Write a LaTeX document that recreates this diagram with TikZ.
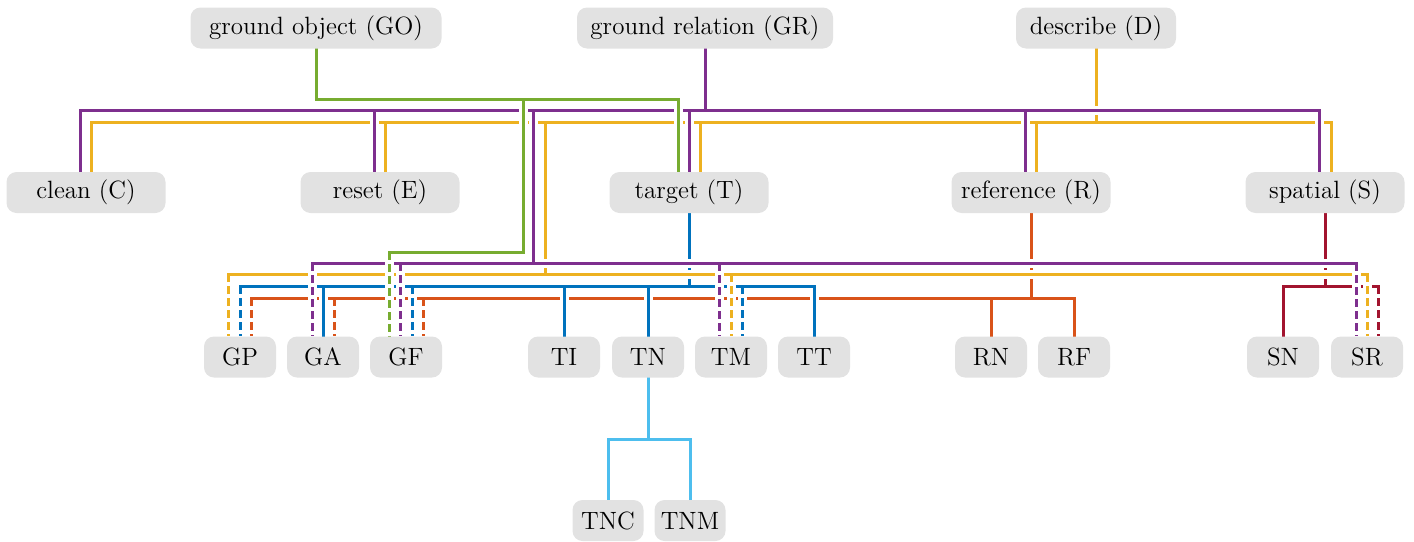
\documentclass[tikz,border=0pt]{standalone}
\usepackage{fontspec}
\usetikzlibrary{calc}
\definecolor{mblue}{RGB}{0,114,189}
\definecolor{morange}{RGB}{217,83,25}
\definecolor{myellow}{RGB}{237,177,32}
\definecolor{mpurple}{RGB}{126,47,142}
\definecolor{mgreen}{RGB}{119,172,48}
\definecolor{mlblue}{RGB}{77,190,238}
\definecolor{mdred}{RGB}{162,20,47}
\definecolor{boxgray}{RGB}{226,226,226}
\pgfdeclarelayer{fg}
\pgfsetlayers{main,fg}

\newcommand{\redpaths}[2]{%
  \draw[#1] (S.south) -- (S.south |- yB2);
  \draw[#1] (SN.north) -- (SN.north |- yB2) -- (SRr |- yB2);
  \draw[#2] (SRr |- yB2) -- (SRr);
}
\newcommand{\orangepaths}[2]{%
  \draw[#1] (R.south) -- (R.south |- yO2);
  \draw[#1] (GPo |- yO2) -- (RF.north |- yO2) -- (RF.north);
  \draw[#1] (RN.north |- yO2) -- (RN.north);
  \draw[#2] (GPo |- yO2) -- (GPo);
  \draw[#2] (GAo |- yO2) -- (GAo);
  \draw[#2] (GFo |- yO2) -- (GFo);
}
\newcommand{\bluepaths}[2]{%
  \draw[#1] (T.south) -- (T.south |- yB2);
  \draw[#1] (GP.north |- yB2) -- (TT.north |- yB2) -- (TT.north);
  \draw[#1] (GA.north |- yB2) -- (GA.north);
  \draw[#1] (TI.north |- yB2) -- (TI.north);
  \draw[#1] (TN.north |- yB2) -- (TN.north);
  \draw[#2] (GP.north |- yB2) -- (GP.north);
  \draw[#2] (GFb |- yB2) -- (GFb);
  \draw[#2] (TMb |- yB2) -- (TMb);
}
\newcommand{\yellowpaths}[2]{%
  \draw[#1] (D.south) -- (D.south |- yY1);
  \draw[#1] (CY) -- (CY |- yY1) -- (SY |- yY1) -- (SY);
  \draw[#1] (EY |- yY1) -- (EY);
  \draw[#1] (TY |- yY1) -- (TY);
  \draw[#1] (RY |- yY1) -- (RY);
  \draw[#1] (jY) -- (jY |- yY2);
  \draw[#1] (GPy |- yY2) -- (SR.north |- yY2);
  \draw[#2] (GPy |- yY2) -- (GPy);
  \draw[#2] (TM.north |- yY2) -- (TM.north);
  \draw[#2] (SR.north |- yY2) -- (SR.north);
}
\newcommand{\purplepaths}[2]{%
  \draw[#1] (GR.south) -- (GR.south |- yP1);
  \draw[#1] (CP) -- (CP |- yP1) -- (SP |- yP1) -- (SP);
  \draw[#1] (EP |- yP1) -- (EP);
  \draw[#1] (T.north |- yP1) -- (T.north);
  \draw[#1] (RP |- yP1) -- (RP);
  \draw[#1] (jP) -- (jP |- yP2);
  \draw[#1] (GAp |- yP2) -- (SRp |- yP2);
  \draw[#2] (GAp |- yP2) -- (GAp);
  \draw[#2] (GFp |- yP2) -- (GFp);
  \draw[#2] (TMp |- yP2) -- (TMp);
  \draw[#2] (SRp |- yP2) -- (SRp);
}
\newcommand{\greenpaths}[2]{%
  \draw[#1] (GO.south) -- (GO.south |- yG1) -- (TG |- yG1) -- (TG);
  \draw[#1] (jG) -- (jG |- yG2) -- (GFg |- yG2);
  \draw[#2] (GFg |- yG2) -- (GFg);
}
\newcommand{\lbluepaths}[2]{%
  \draw[#1] (TN.south) -- (TN.south |- yL);
  \draw[#1] (TNC.north) -- (TNC.north |- yL) -- (TNM.north |- yL) -- (TNM.north);
}

\begin{document}
\begin{tikzpicture}[x=0.5pt,y=-0.5pt,
  box/.style={fill=boxgray, rounded corners=5pt, inner sep=0pt,
    minimum height=20.5pt, font=\fontsize{12.5}{15}\selectfont},
  midbox/.style={box, minimum width=79.5pt},
  leaf/.style={box, minimum width=36pt},
  halo/.style={draw=white, line width=4.5pt, line cap=rect},
  solidc/.style={draw=#1, line width=1.5pt, line cap=rect},
  dashc/.style={draw=#1, line width=1.5pt, line cap=butt, dash pattern=on 4pt off 2pt}]
\useasboundingbox (0,0) rectangle (1414,541);

\begin{pgfonlayer}{fg}
\node[box, minimum width=125.5pt] (GO) at (316,28) {ground object (GO)};
\node[box, minimum width=128pt] (GR) at (705,28) {ground relation (GR)};
\node[box, minimum width=80pt] (D) at (1096,28) {describe (D)};
\node[midbox] (C) at (86,192.5) {clean (C)};
\node[midbox] (E) at (380,192.5) {reset (E)};
\node[midbox] (T) at (689,192.5) {target (T)};
\node[midbox] (R) at (1031,192.5) {reference (R)};
\node[midbox] (S) at (1325,192.5) {spatial (S)};
\node[leaf] (GP) at (240,357) {GP};
\node[leaf] (GA) at (323,357) {GA};
\node[leaf] (GF) at (406,357) {GF};
\node[leaf] (TI) at (564,357) {TI};
\node[leaf] (TN) at (648,357) {TN};
\node[leaf] (TM) at (731,357) {TM};
\node[leaf] (TT) at (814,357) {TT};
\node[leaf] (RN) at (991,357) {RN};
\node[leaf] (RF) at (1074,357) {RF};
\node[leaf] (SN) at (1283,357) {SN};
\node[leaf] (SR) at (1367,357) {SR};
\node[leaf, minimum width=35.5pt] (TNC) at (608,520.5) {TNC};
\node[leaf, minimum width=35.5pt] (TNM) at (690,520.5) {TNM};
\end{pgfonlayer}

% levels
\coordinate (yG1) at (0,99);
\coordinate (yP1) at (0,110);
\coordinate (yY1) at (0,122);
\coordinate (yG2) at (0,252);
\coordinate (yP2) at (0,263);
\coordinate (yY2) at (0,274);
\coordinate (yB2) at (0,286);
\coordinate (yO2) at (0,298);
\coordinate (yL) at (0,439);
% junctions
\coordinate (jG) at (523,99);
\coordinate (jP) at (533,110);
\coordinate (jY) at (545,122);
% offset ends
\coordinate (CP) at ($(C.north)+(-5.5,0)$);
\coordinate (CY) at ($(C.north)+(5.5,0)$);
\coordinate (EP) at ($(E.north)+(-5.5,0)$);
\coordinate (EY) at ($(E.north)+(5.5,0)$);
\coordinate (TG) at ($(T.north)+(-11,0)$);
\coordinate (TY) at ($(T.north)+(11,0)$);
\coordinate (RP) at ($(R.north)+(-5.5,0)$);
\coordinate (RY) at ($(R.north)+(5.5,0)$);
\coordinate (SP) at ($(S.north)+(-5.5,0)$);
\coordinate (SY) at ($(S.north)+(6.5,0)$);
\coordinate (GPy) at ($(GP.north)+(-12,0)$);
\coordinate (GPo) at ($(GP.north)+(11,0)$);
\coordinate (GAp) at ($(GA.north)+(-11,0)$);
\coordinate (GAo) at ($(GA.north)+(11,0)$);
\coordinate (GFg) at ($(GF.north)+(-17,0)$);
\coordinate (GFp) at ($(GF.north)+(-5.5,0)$);
\coordinate (GFb) at ($(GF.north)+(6,0)$);
\coordinate (GFo) at ($(GF.north)+(17,0)$);
\coordinate (TMp) at ($(TM.north)+(-12,0)$);
\coordinate (TMb) at ($(TM.north)+(11,0)$);
\coordinate (SRp) at ($(SR.north)+(-11,0)$);
\coordinate (SRr) at ($(SR.north)+(11,0)$);

\redpaths{halo}{halo}
\redpaths{solidc=mdred}{dashc=mdred}
\orangepaths{halo}{halo}
\orangepaths{solidc=morange}{dashc=morange}
\bluepaths{halo}{halo}
\bluepaths{solidc=mblue}{dashc=mblue}
\yellowpaths{halo}{halo}
\yellowpaths{solidc=myellow}{dashc=myellow}
\purplepaths{halo}{halo}
\purplepaths{solidc=mpurple}{dashc=mpurple}
\greenpaths{halo}{halo}
\greenpaths{solidc=mgreen}{dashc=mgreen}
\lbluepaths{halo}{halo}
\lbluepaths{solidc=mlblue}{dashc=mlblue}
\end{tikzpicture}
\end{document}
